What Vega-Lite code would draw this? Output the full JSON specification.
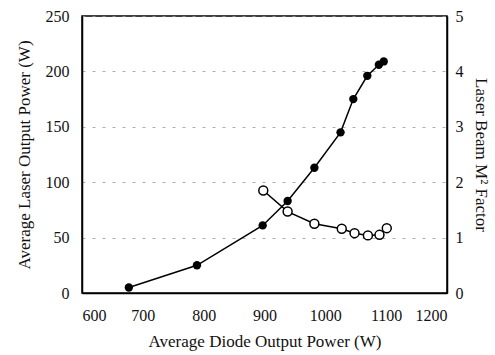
{
  "$schema": "https://vega.github.io/schema/vega-lite/v6.json",
  "width": 365,
  "height": 277,
  "autosize": {"type": "none"},
  "padding": {"left": 82, "top": 16, "right": 48, "bottom": 62},
  "background": "white",
  "config": {
    "font": "Liberation Serif",
    "view": {"stroke": "black", "strokeWidth": 1.5},
    "axis": {
      "labelFont": "Liberation Serif",
      "titleFont": "Liberation Serif",
      "labelFontSize": 16,
      "titleFontSize": 17,
      "titleFontWeight": "normal",
      "labelColor": "#111",
      "titleColor": "#111",
      "domainColor": "black",
      "tickColor": "black",
      "domainWidth": 1.5
    }
  },
  "datasets": {
    "power": [
      {"diode": 677, "laser": 5},
      {"diode": 789, "laser": 25},
      {"diode": 897, "laser": 61},
      {"diode": 938, "laser": 83},
      {"diode": 982, "laser": 113},
      {"diode": 1025, "laser": 145},
      {"diode": 1046, "laser": 175},
      {"diode": 1069, "laser": 196},
      {"diode": 1088, "laser": 206},
      {"diode": 1096, "laser": 209}
    ],
    "msq": [
      {"diode": 898, "m2": 1.85},
      {"diode": 938, "m2": 1.47},
      {"diode": 982, "m2": 1.25},
      {"diode": 1027, "m2": 1.16},
      {"diode": 1048, "m2": 1.08},
      {"diode": 1070, "m2": 1.04},
      {"diode": 1089, "m2": 1.05},
      {"diode": 1101, "m2": 1.17}
    ]
  },
  "encoding": {
    "x": {
      "field": "diode",
      "type": "quantitative",
      "scale": {"domain": [600, 1200], "nice": false},
      "axis": {
        "title": "Average Diode Output Power (W)",
        "format": "d",
        "values": [600, 700, 800, 900, 1000, 1100, 1200],
        "grid": false,
        "tickSize": 0,
        "labelPadding": 14,
        "titlePadding": 10
      }
    }
  },
  "layer": [
    {
      "data": {"name": "power"},
      "layer": [
        {"mark": {"type": "line", "color": "black", "strokeWidth": 1.5}},
        {"mark": {"type": "point", "filled": true, "color": "black", "size": 70, "opacity": 1}}
      ],
      "encoding": {
        "y": {
          "field": "laser",
          "type": "quantitative",
          "scale": {"domain": [0, 250], "nice": false},
          "axis": {
            "title": "Average Laser Output Power (W)",
            "values": [0, 50, 100, 150, 200, 250],
            "grid": true,
            "gridDash": [3, 7],
            "gridColor": "#999",
            "gridWidth": 0.8,
            "tickSize": 0,
            "labelPadding": 13,
            "titlePadding": 12
          }
        }
      }
    },
    {
      "data": {"name": "msq"},
      "layer": [
        {"mark": {"type": "line", "color": "black", "strokeWidth": 1.5}},
        {"mark": {"type": "point", "filled": true, "fill": "white", "stroke": "black", "strokeWidth": 1.5, "size": 80, "opacity": 1}}
      ],
      "encoding": {
        "y": {
          "field": "m2",
          "type": "quantitative",
          "scale": {"domain": [0, 5], "nice": false},
          "axis": {
            "orient": "right",
            "title": "Laser Beam M² Factor",
            "values": [0, 1, 2, 3, 4, 5],
            "grid": false,
            "tickSize": 0,
            "labelPadding": 8,
            "titlePadding": 8
          }
        }
      }
    }
  ],
  "resolve": {"scale": {"y": "independent"}}
}
